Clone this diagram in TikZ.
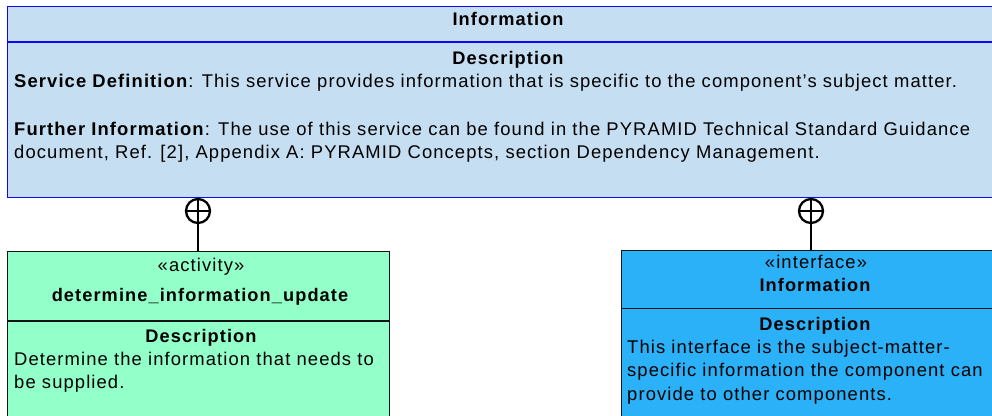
\documentclass[tikz,border=0pt]{standalone}
\usepackage{fontspec}
\setmainfont[LetterSpace=6]{Liberation Sans}
\definecolor{svcfill}{RGB}{197,222,241}
\definecolor{svcline}{RGB}{10,10,245}
\definecolor{actfill}{RGB}{147,255,201}
\definecolor{ifcfill}{RGB}{43,177,248}
\definecolor{edge}{RGB}{20,20,20}
\begin{document}
\begin{tikzpicture}[x=1pt,y=-1pt,
  txt/.style={inner sep=0pt, font=\fontsize{18.4}{22}\selectfont},
  ln/.style={txt, anchor=base west},
  hd/.style={txt, anchor=base, font=\fontsize{18.2}{22}\selectfont\bfseries},
  st/.style={txt, anchor=base},
  lolli/.style={circle, draw=black, line width=2.3pt, minimum size=24pt, inner sep=0pt,
    path picture={\draw[line width=2.3pt]
      (path picture bounding box.north) -- (path picture bounding box.south)
      (path picture bounding box.west) -- (path picture bounding box.east);}},
  stem/.style={draw=black, line width=2.3pt}]
\useasboundingbox (0,0) rectangle (992,415);
\clip (0,0) rectangle (992,415);

% service block
\node[draw=svcline, fill=svcfill, line width=1.3pt, anchor=north west,
  minimum width=1003pt, minimum height=191pt, inner sep=0pt] (svc) at (7,6) {};
\draw[svcline, line width=1.3pt] (7,42) -- (1010,42);
\node[hd] (svcname) at (508,25) {Information};
\node[hd] (svcdesc) at (508,64) {Description};
\node[ln] (svcl1) at (14,87) {\textbf{Service Definition}: This service provides information that is specific to the component’s subject matter.};
\node[ln] (svcl2) at (14,135) {\textbf{Further Information}: The use of this service can be found in the PYRAMID Technical Standard Guidance};
\node[ln] (svcl3) at (14,158.5) {document, Ref. [2], Appendix A: PYRAMID Concepts, section Dependency Management.};

% activity block
\node[draw=edge, fill=actfill, line width=1.3pt, anchor=north west,
  minimum width=382pt, minimum height=180pt, inner sep=0pt] (act) at (7,251) {};
\draw[edge, line width=1.3pt] (7,321) -- (389,321);
\node[st] (actst) at (201,271.5) {«activity»};
\node[hd] (actname) at (200,301.5) {determine\_information\_update};
\node[hd] (actdesc) at (201,342.5) {Description};
\node[ln] (actl1) at (14,365) {Determine the information that needs to};
\node[ln] (actl2) at (14,388) {be supplied.};

% interface block
\node[draw=edge, fill=ifcfill, line width=1.3pt, anchor=north west,
  minimum width=389pt, minimum height=180pt, inner sep=0pt] (ifc) at (621,250) {};
\draw[edge, line width=1.3pt] (621,308.7) -- (1010,308.7);
\node[st] (ifcst) at (816,268) {«interface»};
\node[hd] (ifcname) at (815,291.5) {Information};
\node[hd] (ifcdesc) at (815,330.5) {Description};
\node[ln] (ifcl1) at (627,353.3) {This interface is the subject-matter-};
\node[ln] (ifcl2) at (627,376.7) {specific information the component can};
\node[ln] (ifcl3) at (627,400) {provide to other components.};

% nesting connectors
\node[lolli] (lolA) at (198,211) {};
\node[lolli] (lolB) at (811,211) {};
\draw[stem] (lolA.south) -- (lolA |- act.north);
\draw[stem] (lolB.south) -- (lolB |- ifc.north);
\end{tikzpicture}
\end{document}
